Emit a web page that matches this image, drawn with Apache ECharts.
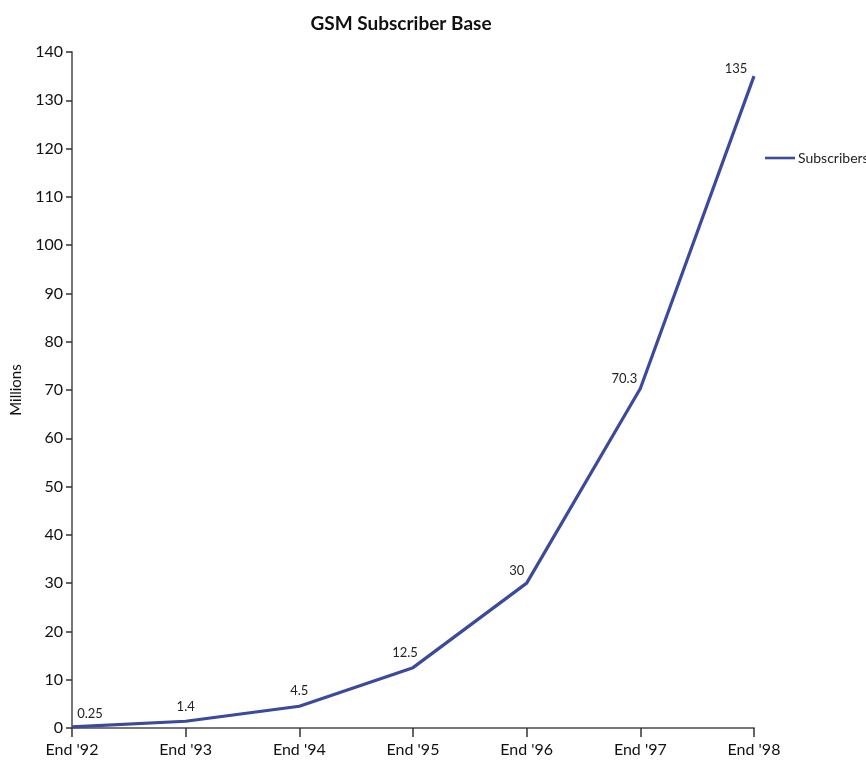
<!DOCTYPE html>
<html>
<head>
<meta charset="utf-8">
<script src="https://cdn.jsdelivr.net/npm/echarts@6/dist/echarts.min.js"></script>
<style>
  html, body { margin: 0; padding: 0; background: #fff; }
  #chart { width: 866px; height: 764px; }
</style>
</head>
<body>
<div id="chart"></div>
<script>
// GSM subscriber base, millions, at year end
const categories = ["End '92", "End '93", "End '94", "End '95", "End '96", "End '97", "End '98"];
const subscribers = [0.25, 1.4, 4.5, 12.5, 30, 70.3, 135];
const valueLabels = ["0.25", "1.4", "4.5", "12.5", "30", "70.3", "135"];

// label placement around each point (dx, dy in pixels)
const labelShift = [[18, -1], [0, -3], [0, -4], [-8, -3], [-10, -1], [-16, 2], [-18, 4]];

const FONT = 'Lato, "Open Sans", sans-serif';
const LINE_COLOR = '#3b4a9c';

const chart = echarts.init(document.getElementById('chart'), null, { renderer: 'canvas' });

chart.setOption({
  animation: false,
  backgroundColor: '#fff',
  title: {
    text: 'GSM Subscriber Base',
    left: 396,
    top: 9,
    textAlign: 'center',
    textStyle: { fontFamily: FONT, fontSize: 19, fontWeight: 'bold', color: '#111' }
  },
  legend: {
    data: ['Subscribers'],
    left: 760,
    top: 146,
    itemWidth: 30,
    itemHeight: 12,
    itemGap: 6,
    icon: 'path://M0,5 L30,5 L30,7.6 L0,7.6 Z',
    textStyle: { fontFamily: FONT, fontSize: 14, color: '#222', padding: [0, 0, 0, -2] }
  },
  grid: { left: 72, right: 112, top: 52, bottom: 36, containLabel: false },
  xAxis: {
    type: 'category',
    data: categories,
    boundaryGap: false,
    axisLine: { lineStyle: { color: '#777', width: 2 } },
    axisTick: { alignWithLabel: true, length: 9, lineStyle: { color: '#333', width: 1.5 } },
    axisLabel: { fontFamily: FONT, fontSize: 16, color: '#111', margin: 14 },
    splitLine: { show: false }
  },
  yAxis: {
    type: 'value',
    min: 0,
    max: 140,
    interval: 10,
    name: 'Millions',
    nameLocation: 'middle',
    nameGap: 48,
    nameRotate: 90,
    nameTextStyle: { fontFamily: FONT, fontSize: 15, color: '#111' },
    axisLine: { show: true, lineStyle: { color: '#777', width: 2 } },
    axisTick: { show: true, length: 6, lineStyle: { color: '#333', width: 1.5 } },
    axisLabel: { fontFamily: FONT, fontSize: 16, color: '#111', margin: 9 },
    splitLine: { show: false }
  },
  series: [{
    name: 'Subscribers',
    type: 'line',
    data: subscribers.map((v, i) => ({
      value: v,
      label: {
        show: true,
        position: 'top',
        offset: labelShift[i],
        formatter: valueLabels[i],
        fontFamily: FONT,
        fontSize: 13,
        color: '#222'
      }
    })),
    showSymbol: true,
    symbol: 'circle',
    symbolSize: 0,
    lineStyle: { color: LINE_COLOR, width: 3.2 },
    itemStyle: { color: LINE_COLOR }
  }]
});
</script>
</body>
</html>
